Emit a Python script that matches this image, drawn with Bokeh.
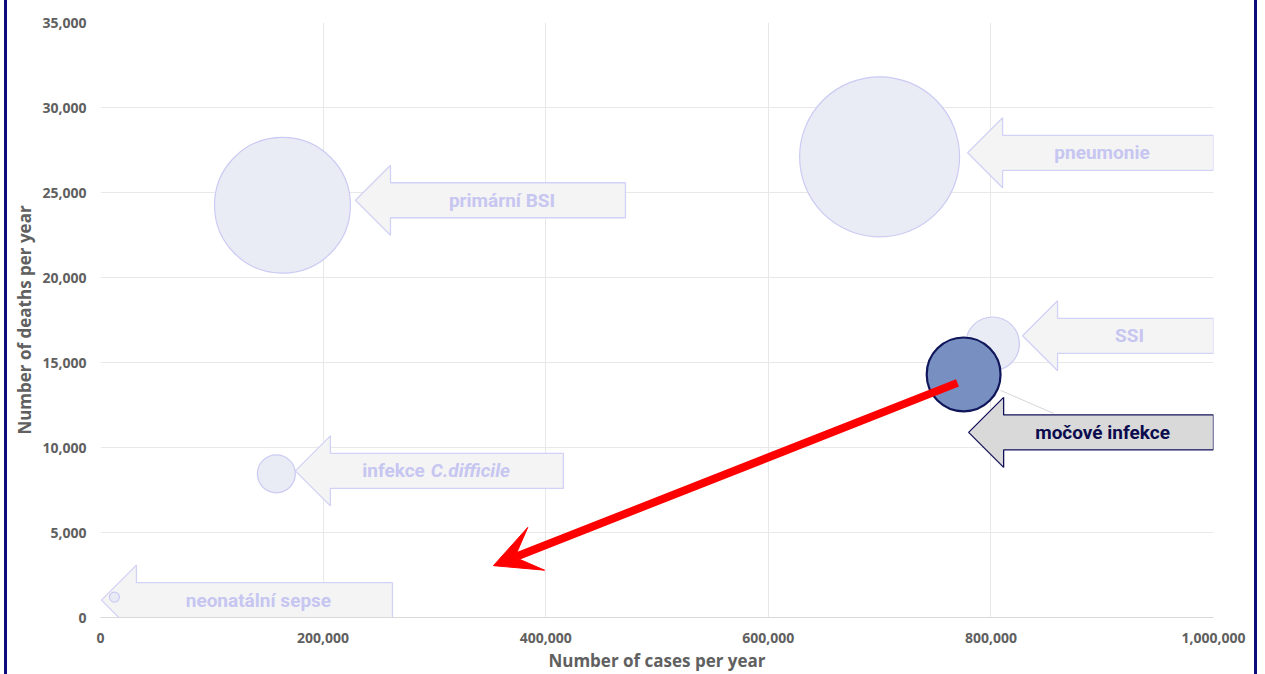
import math

from bokeh.core.properties import value
from bokeh.embed import file_html
from bokeh.models import (Arrow, ColumnDataSource, FixedTicker,
                          NumeralTickFormatter, Range1d, VeeHead)
from bokeh.plotting import figure
from bokeh.resources import INLINE

# ---- data -------------------------------------------------------------
infections = ["pneumonie", "primární BSI", "SSI", "močové infekce",
              "infekce C.difficile", "neonatální sepse"]
cases_per_year = [700000, 163500, 801500, 775500, 158000, 12500]
deaths_per_year = [27100, 24250, 16100, 14300, 8450, 1200]
burden = [169, 122, 19, 36, 9.5, 0.66]          # bubble area value

x_ticks = [0, 200000, 400000, 600000, 800000, 1000000]
y_ticks = [0, 5000, 10000, 15000, 20000, 25000, 30000, 35000]

highlighted = "močové infekce"
italic_part = {"infekce C.difficile": "C.difficile"}

# red trend arrow: from the highlighted bubble towards a lower target
trend_start = (770000, 13800)
trend_end = (353000, 3050)

# ---- layout -----------------------------------------------------------
W, H = 1265, 674
FL, FR, FT, FB = 100, 52, 22, 57
FW, FH = W - FL - FR, H - FT - FB
X_MAX, Y_MAX = x_ticks[-1], y_ticks[-1]
ux, uy = X_MAX / FW, Y_MAX / FH            # data units per screen pixel

MAX_R = 80                                  # radius (px) of the largest bubble
HEAD_LEN, HEAD_HALF, SHAFT_HALF = 35, 35, 17.5

# callout placement in px: tip offset from bubble centre, total length
# (None = run to the right edge of the plot)
callout_layout = {
    "pneumonie": (88, -4, None),
    "primární BSI": (73, -5, 270),
    "SSI": (30, -8, None),
    "močové infekce": (5, 58, None),
    "infekce C.difficile": (19, -3, 268),
    "neonatální sepse": (-13, 3, 291),
}

LIGHT_FILL, LIGHT_LINE, LIGHT_TEXT = "#f4f4f5", "#d2d2f6", "#c6c6f1"
HI_FILL, HI_LINE, HI_TEXT = "#d9d9d9", "#12125a", "#0b0b4e"
BUBBLE_FILL, BUBBLE_LINE = "#e9ebf5", "#cbcbf3"
HI_BUBBLE_FILL, HI_BUBBLE_LINE = "#788fc1", "#10165a"
NAVY = "#0c0c7a"
AXIS_GREY = "#606060"

p = figure(width=W, height=H, output_backend="svg", toolbar_location=None,
           x_range=Range1d(0, X_MAX), y_range=Range1d(0, Y_MAX),
           min_border_left=FL, min_border_right=FR,
           min_border_top=FT, min_border_bottom=FB)
p.outline_line_color = None
p.background_fill_color = "white"
# transparent surround so the slide frame rules (host box-shadow) show through
p.border_fill_color = None
p.styles = {
    "background-color": "white",
    "box-shadow": ("inset 4px 0 0 0 white, inset 7px 0 0 0 " + NAVY + ", "
                   "inset -8px 0 0 0 white, inset -11px 0 0 0 " + NAVY),
}

# axes
p.xaxis.ticker = FixedTicker(ticks=x_ticks)
p.yaxis.ticker = FixedTicker(ticks=y_ticks)
p.xaxis.formatter = NumeralTickFormatter(format="0,0")
p.yaxis.formatter = NumeralTickFormatter(format="0,0")
p.xaxis.axis_label = "Number of cases per year"
p.yaxis.axis_label = "Number of deaths per year"
for ax in (p.xaxis, p.yaxis):
    ax.major_tick_out = 0
    ax.major_tick_in = 0
    ax.minor_tick_out = 0
    ax.minor_tick_in = 0
    ax.major_label_text_font = "Open Sans"
    ax.major_label_text_font_style = "bold"
    ax.major_label_text_font_size = "14px"
    ax.major_label_text_color = AXIS_GREY
    ax.axis_label_text_font = "Open Sans"
    ax.axis_label_text_font_style = "bold"
    ax.axis_label_text_font_size = "17px"
    ax.axis_label_text_color = AXIS_GREY
p.yaxis.axis_line_color = None
p.xaxis.axis_line_color = "#d9d9d9"
p.yaxis.major_label_standoff = 14
p.yaxis.axis_label_standoff = 3
p.xaxis.major_label_standoff = 15
p.xaxis.axis_label_standoff = 3

p.xgrid.ticker = FixedTicker(ticks=x_ticks)
p.ygrid.ticker = FixedTicker(ticks=y_ticks)
p.grid.grid_line_color = "#e8e8e8"
p.grid.grid_line_width = 1

# bubble geometry in px
radii = [MAX_R * math.sqrt(b / max(burden)) for b in burden]

# faint leader line from the highlighted bubble to its callout
hi = infections.index(highlighted)
hx, hy, hr = cases_per_year[hi], deaths_per_year[hi], radii[hi]
p.line([hx + hr * ux, hx + (hr + 53) * ux], [hy - 16 * uy, hy - 39 * uy],
       line_color="#d6d6d6", line_width=1)

# block-arrow callouts
xs, ys, fills, lines = [], [], [], []
txt_x, txt_y, txt, txt_col = [], [], [], []
split_parts = []
for name, cx, cy in zip(infections, cases_per_year, deaths_per_year):
    dx, dy, length = callout_layout[name]
    tx, ty = cx + dx * ux, cy - dy * uy
    hx_ = tx + HEAD_LEN * ux
    ex = X_MAX if length is None else tx + length * ux
    xs.append([tx, hx_, hx_, ex, ex, hx_, hx_])
    ys.append([ty, ty + HEAD_HALF * uy, ty + SHAFT_HALF * uy, ty + SHAFT_HALF * uy,
               ty - SHAFT_HALF * uy, ty - SHAFT_HALF * uy, ty - HEAD_HALF * uy])
    is_hi = name == highlighted
    fills.append(HI_FILL if is_hi else LIGHT_FILL)
    lines.append(HI_LINE if is_hi else LIGHT_LINE)
    mid = (hx_ + ex) / 2
    if name in italic_part:
        split_parts.append((name, mid - 19 * ux, ty))
    else:
        txt_x.append(mid - 6 * ux)
        txt_y.append(ty)
        txt.append(name)
        txt_col.append(HI_TEXT if is_hi else LIGHT_TEXT)

p.patches(xs="xs", ys="ys", fill_color="fill", line_color="line", line_width=1.3,
          source=ColumnDataSource(dict(xs=xs, ys=ys, fill=fills, line=lines)))

label_font = dict(text_font=value("Roboto"), text_font_size="19px",
                  text_baseline="middle")
p.text(x="x", y="y", text="text", text_color="color", text_align="center",
       text_font_style="bold",
       source=ColumnDataSource(dict(x=txt_x, y=txt_y, text=txt, color=txt_col)),
       **label_font)
for name, sx, sy in split_parts:
    ital = italic_part[name]
    plain = name[: -len(ital)].strip()
    p.text(x=[sx - 3 * ux], y=[sy], text=[plain], text_color=LIGHT_TEXT,
           text_align="right", text_font_style="bold", **label_font)
    p.text(x=[sx + 3 * ux], y=[sy], text=[ital], text_color=LIGHT_TEXT,
           text_align="left", text_font_style="bold italic", **label_font)

# bubbles
light_idx = [i for i, n in enumerate(infections) if n != highlighted]
p.scatter(x=[cases_per_year[i] for i in light_idx],
          y=[deaths_per_year[i] for i in light_idx],
          size=[2 * radii[i] for i in light_idx],
          fill_color=BUBBLE_FILL, line_color=BUBBLE_LINE, line_width=1.2)
p.scatter(x=[hx], y=[hy], size=[2 * hr], fill_color=HI_BUBBLE_FILL,
          line_color=HI_BUBBLE_LINE, line_width=2.2)

# red trend arrow
p.add_layout(Arrow(end=VeeHead(size=46, fill_color="#ff0000", line_color="#ff0000"),
                   x_start=trend_start[0], y_start=trend_start[1],
                   x_end=trend_end[0], y_end=trend_end[1],
                   line_color="#ff0000", line_width=8))

open("out.html", "w").write(file_html(p, INLINE))
